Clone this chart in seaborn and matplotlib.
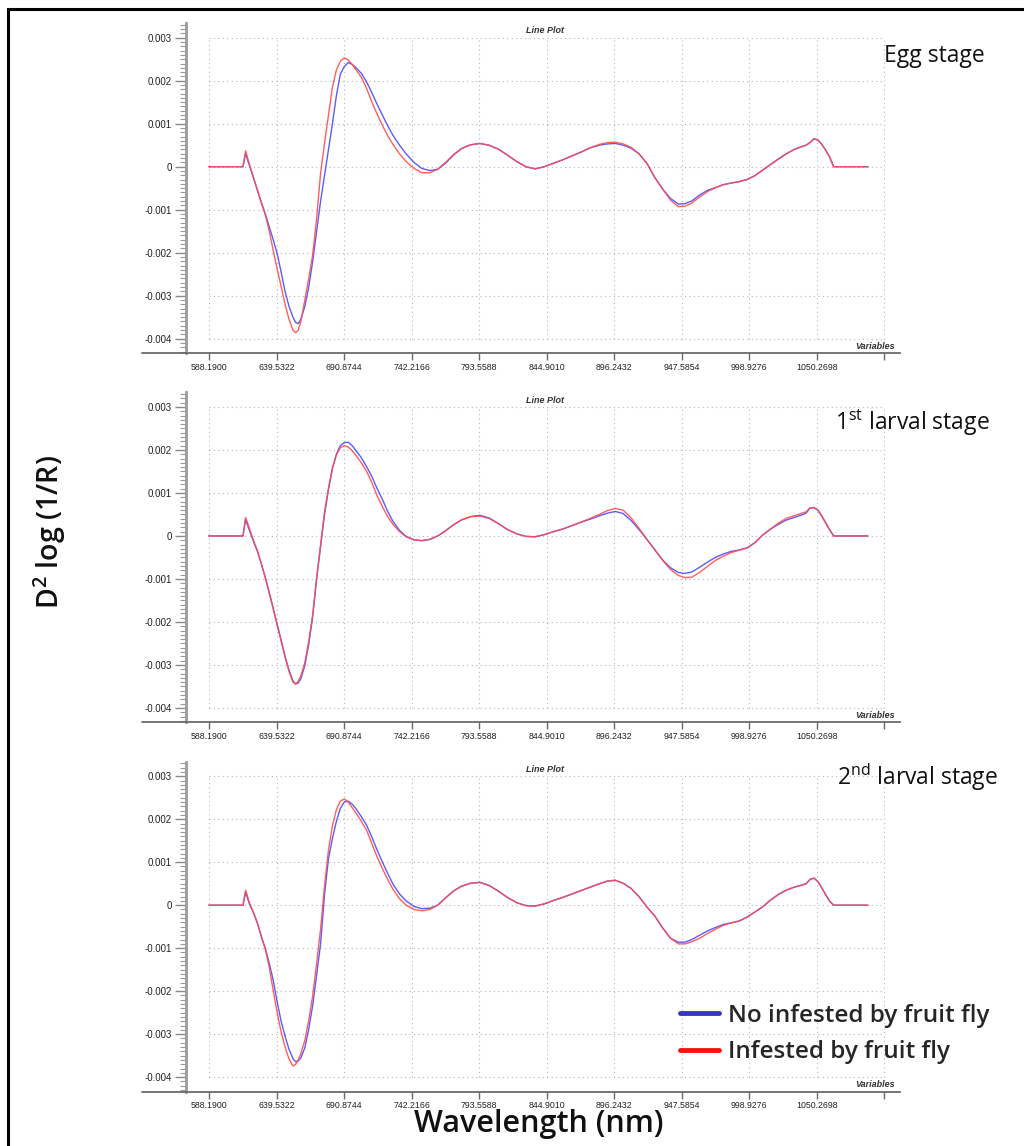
import numpy as np
import pandas as pd
import matplotlib
matplotlib.use("Agg")
import matplotlib.pyplot as plt
import matplotlib.ticker as mticker
from matplotlib.lines import Line2D
from matplotlib.patches import Rectangle
import seaborn as sns

# ---------------------------------------------------------------- data
# Wavelength sampling (nm) shared by every spectrum
wavelength = [588, 614, 616, 619, 622, 625, 628, 631, 634, 637, 640, 643, 646, 649, 652, 654,
              656, 658, 661, 664, 667, 670, 673, 676, 679, 682, 685, 688, 691, 694, 697, 700,
              704, 708, 712, 716, 720, 724, 728, 733, 738, 744, 750, 756, 762, 768, 774, 780,
              787, 794, 801, 808, 815, 822, 829, 836, 843, 850, 857, 864, 871, 878, 885, 891,
              897, 903, 909, 915, 921, 927, 933, 939, 945, 950, 955, 961, 967, 973, 979, 985,
              991, 997, 1003, 1009, 1015, 1021, 1027, 1033, 1038, 1042, 1045, 1048, 1051, 1054,
              1057, 1060, 1063, 1089]

# Second-derivative spectra, in units of 1e-3
egg_no = [0, 0, 0.30, 0.02, -0.26, -0.55, -0.83, -1.10, -1.40, -1.70, -2.02, -2.45, -2.90, -3.25, -3.50, -3.62,
          -3.65, -3.55, -3.25, -2.80, -2.20, -1.50, -0.80, -0.20, 0.40, 1.00, 1.65, 2.15, 2.33, 2.42, 2.38, 2.30,
          2.17, 1.97, 1.72, 1.45, 1.20, 0.95, 0.73, 0.50, 0.30, 0.10, -0.04, -0.09, -0.06, 0.08, 0.27, 0.42,
          0.51, 0.54, 0.50, 0.41, 0.27, 0.12, 0.00, -0.05, 0.00, 0.08, 0.16, 0.25, 0.34, 0.44, 0.50, 0.53,
          0.54, 0.50, 0.43, 0.30, 0.08, -0.25, -0.52, -0.74, -0.87, -0.86, -0.80, -0.66, -0.55, -0.49, -0.42, -0.38,
          -0.35, -0.30, -0.21, -0.08, 0.05, 0.18, 0.30, 0.40, 0.46, 0.50, 0.56, 0.65, 0.62, 0.52,
          0.38, 0.22, 0.00, 0]
egg_inf = [0, 0, 0.37, 0.05, -0.25, -0.55, -0.85, -1.12, -1.50, -1.95, -2.38, -2.78, -3.20, -3.55, -3.80, -3.86,
           -3.80, -3.60, -3.10, -2.60, -2.05, -1.20, -0.15, 0.55, 1.20, 1.85, 2.25, 2.45, 2.53, 2.48, 2.38, 2.25,
           2.08, 1.82, 1.50, 1.22, 0.96, 0.72, 0.52, 0.30, 0.12, -0.04, -0.14, -0.14, -0.06, 0.10, 0.28, 0.42,
           0.51, 0.54, 0.50, 0.41, 0.27, 0.12, 0.00, -0.05, 0.00, 0.08, 0.16, 0.25, 0.34, 0.44, 0.52, 0.56,
           0.57, 0.53, 0.45, 0.30, 0.08, -0.25, -0.52, -0.78, -0.93, -0.92, -0.85, -0.71, -0.58, -0.49, -0.42, -0.38,
           -0.35, -0.30, -0.21, -0.08, 0.05, 0.18, 0.30, 0.40, 0.46, 0.50, 0.56, 0.65, 0.62, 0.52,
           0.38, 0.22, 0.00, 0]

larva1_no = [0, 0, 0.38, 0.12, -0.13, -0.36, -0.65, -0.97, -1.32, -1.68, -2.05, -2.42, -2.80, -3.12, -3.37, -3.44,
             -3.42, -3.32, -3.02, -2.52, -1.88, -1.00, -0.25, 0.50, 1.08, 1.57, 1.90, 2.10, 2.17, 2.18, 2.10, 1.98,
             1.82, 1.61, 1.38, 1.10, 0.85, 0.57, 0.34, 0.13, -0.01, -0.09, -0.11, -0.08, 0.00, 0.12, 0.26, 0.37,
             0.45, 0.48, 0.42, 0.29, 0.15, 0.05, -0.01, -0.02, 0.03, 0.10, 0.16, 0.24, 0.32, 0.39, 0.47, 0.53,
             0.57, 0.52, 0.36, 0.15, -0.08, -0.32, -0.56, -0.74, -0.85, -0.87, -0.84, -0.73, -0.61, -0.50, -0.42, -0.36,
             -0.33, -0.28, -0.16, 0.02, 0.16, 0.27, 0.37, 0.43, 0.48, 0.53, 0.65, 0.66, 0.60, 0.46,
             0.30, 0.14, 0.00, 0]
larva1_inf = [0, 0, 0.43, 0.17, -0.10, -0.35, -0.65, -0.98, -1.33, -1.70, -2.08, -2.45, -2.82, -3.15, -3.40, -3.45,
              -3.38, -3.25, -2.95, -2.45, -1.82, -0.97, -0.20, 0.55, 1.12, 1.58, 1.88, 2.05, 2.10, 2.07, 1.98, 1.87,
              1.70, 1.50, 1.24, 0.93, 0.68, 0.45, 0.27, 0.10, -0.02, -0.09, -0.11, -0.08, 0.00, 0.12, 0.26, 0.37,
              0.45, 0.46, 0.41, 0.29, 0.15, 0.05, -0.01, -0.02, 0.03, 0.10, 0.16, 0.24, 0.32, 0.41, 0.50, 0.59,
              0.64, 0.60, 0.42, 0.18, -0.08, -0.32, -0.57, -0.78, -0.92, -0.97, -0.96, -0.85, -0.71, -0.57, -0.47, -0.39,
              -0.33, -0.28, -0.16, 0.02, 0.16, 0.30, 0.41, 0.47, 0.52, 0.56, 0.65, 0.66, 0.60, 0.46,
              0.30, 0.14, 0.00, 0]

larva2_no = [0, 0, 0.30, 0.02, -0.18, -0.42, -0.73, -1.01, -1.35, -1.75, -2.25, -2.70, -3.05, -3.35, -3.57, -3.64,
             -3.62, -3.55, -3.32, -2.88, -2.33, -1.62, -0.90, 0.25, 1.08, 1.55, 1.95, 2.25, 2.40, 2.42, 2.35, 2.24,
             2.06, 1.86, 1.58, 1.28, 1.00, 0.74, 0.49, 0.26, 0.10, -0.03, -0.08, -0.07, 0.00, 0.17, 0.33, 0.44,
             0.51, 0.53, 0.46, 0.33, 0.18, 0.06, -0.01, -0.02, 0.03, 0.11, 0.18, 0.26, 0.34, 0.42, 0.50, 0.56,
             0.58, 0.51, 0.39, 0.20, -0.04, -0.25, -0.53, -0.77, -0.86, -0.86, -0.80, -0.70, -0.60, -0.52, -0.45, -0.41,
             -0.37, -0.28, -0.16, -0.04, 0.12, 0.25, 0.35, 0.42, 0.46, 0.50, 0.60, 0.63, 0.55, 0.40,
             0.24, 0.09, 0.00, 0]
larva2_inf = [0, 0, 0.35, 0.05, -0.17, -0.42, -0.73, -1.02, -1.45, -1.98, -2.50, -2.95, -3.30, -3.58, -3.74, -3.70,
              -3.60, -3.45, -3.15, -2.68, -2.10, -1.35, -0.55, 0.45, 1.28, 1.85, 2.22, 2.42, 2.47, 2.40, 2.27, 2.14,
              1.95, 1.74, 1.43, 1.12, 0.85, 0.60, 0.37, 0.15, 0.00, -0.10, -0.13, -0.10, 0.00, 0.17, 0.33, 0.44,
              0.51, 0.53, 0.46, 0.33, 0.18, 0.06, -0.01, -0.02, 0.03, 0.11, 0.18, 0.26, 0.34, 0.42, 0.50, 0.56,
              0.58, 0.51, 0.39, 0.20, -0.04, -0.25, -0.53, -0.77, -0.90, -0.90, -0.85, -0.77, -0.66, -0.56, -0.47, -0.41,
              -0.37, -0.28, -0.16, -0.04, 0.12, 0.25, 0.35, 0.42, 0.46, 0.50, 0.60, 0.63, 0.55, 0.40,
              0.24, 0.09, 0.00, 0]

stage_names = ["Egg stage", r"1$^\mathregular{st}$ larval stage", r"2$^\mathregular{nd}$ larval stage"]
group_names = ["No infested by fruit fly", "Infested by fruit fly"]
spectra = [(egg_no, egg_inf), (larva1_no, larva1_inf), (larva2_no, larva2_inf)]

x_tick_values = [588.1900, 639.5322, 690.8744, 742.2166, 793.5588, 844.9010,
                 896.2432, 947.5854, 998.9276, 1050.2698, 1101.6120]
x_tick_labels = ["588.1900", "639.5322", "690.8744", "742.2166", "793.5588", "844.9010",
                 "896.2432", "947.5854", "998.9276", "1050.2698", ""]
y_tick_values = [-0.004, -0.003, -0.002, -0.001, 0.0, 0.001, 0.002, 0.003]
y_tick_labels = ["-0.004", "-0.003", "-0.002", "-0.001", "0", "0.001", "0.002", "0.003"]

# ---------------------------------------------------------------- style
sns.set_style("white")
plt.rcParams["font.family"] = ["Liberation Sans", "DejaVu Sans"]

LINE_COLORS = {group_names[0]: "#4a4aff", group_names[1]: "#ff4d4d"}
LEGEND_COLORS = {group_names[0]: "#3535c8", group_names[1]: "#ff1010"}
LABEL_FONT = ["Open Sans", "Noto Sans", "DejaVu Sans"]

W, H = 1024, 1146
fig = plt.figure(figsize=(W / 100, H / 100), dpi=100)
fig.patch.set_facecolor("white")

# outer frame
fig.add_artist(Rectangle((8 / W, 1 - 1150 / H), 1030 / W, 1141 / H, transform=fig.transFigure,
                         fill=False, edgecolor="black", linewidth=2.2, clip_on=False))

ax_left, ax_right = 186, 900
panel_step = 369.25
axes = []
for i, (no_vals, inf_vals) in enumerate(spectra):
    top = 23 + panel_step * i
    bottom = 353 + panel_step * i
    ax = fig.add_axes([ax_left / W, 1 - bottom / H, (ax_right - ax_left) / W, (bottom - top) / H])
    axes.append(ax)

    df = pd.DataFrame({
        "wavelength": wavelength * 2,
        "d2": np.concatenate([np.array(no_vals), np.array(inf_vals)]) * 1e-3,
        "group": [group_names[0]] * len(wavelength) + [group_names[1]] * len(wavelength),
    })
    sns.lineplot(data=df, x="wavelength", y="d2", hue="group", palette=LINE_COLORS,
                 hue_order=group_names, estimator=None, sort=False, linewidth=1.0,
                 alpha=0.9, legend=False, ax=ax, zorder=3)

    ax.set_xlim(570.7, 1113.4)
    ax.set_ylim(-0.004333, 0.003342)

    # dotted grid confined to the tick range
    ax.hlines(y_tick_values, x_tick_values[0], x_tick_values[-1], colors="#b5b5b5",
              linestyles=(0, (1, 3)), linewidth=0.8, zorder=1)
    ax.vlines(x_tick_values, y_tick_values[0], y_tick_values[-1], colors="#b5b5b5",
              linestyles=(0, (1, 3)), linewidth=0.8, zorder=1)

    for side in ("top", "right"):
        ax.spines[side].set_visible(False)
    ax.spines["left"].set_color("#9a9a9a")
    ax.spines["left"].set_linewidth(2.0)
    ax.spines["bottom"].set_color("#6a6a6a")
    ax.spines["bottom"].set_linewidth(1.3)
    # bottom axis line runs a little past the value axis on the left
    fig.add_artist(Line2D([142 / W, ax_left / W], [1 - bottom / H] * 2, color="#6a6a6a",
                          linewidth=1.3, transform=fig.transFigure))

    ax.set_xticks(x_tick_values)
    ax.set_xticklabels(x_tick_labels, fontsize=6.3, color="#222222",
                       family=["Liberation Sans Narrow", "Liberation Sans", "DejaVu Sans"])
    ax.set_yticks(y_tick_values)
    ax.set_yticklabels(y_tick_labels, fontsize=7, color="#222222")
    ax.yaxis.set_minor_locator(mticker.MultipleLocator(0.0001))
    ax.tick_params(which="both", left=True, bottom=True)
    ax.tick_params(axis="x", which="minor", bottom=False)
    ax.tick_params(axis="x", which="major", direction="out", length=5, width=1, color="#6a6a6a", pad=2)
    ax.tick_params(axis="y", which="major", direction="out", length=8, width=1, color="#8a8a8a", pad=2)
    ax.tick_params(axis="y", which="minor", direction="out", length=4, width=0.8, color="#9a9a9a")
    ax.set_xlabel("")
    ax.set_ylabel("")

    ax.text(0.503, 0.976, "Line Plot", transform=ax.transAxes, ha="center", va="center",
            fontsize=6.5, style="italic", weight="bold", color="#333333")
    ax.text(0.965, 0.021, "Variables", transform=ax.transAxes, ha="center", va="center",
            fontsize=6.5, style="italic", weight="bold", color="#333333")

# stage captions
stage_pos = [(985, 56), (990, 423), (998, 777)]
for name, (px, py) in zip(stage_names, stage_pos):
    fig.text(px / W, 1 - py / H, name, ha="right", va="center", fontsize=16.5,
             family=LABEL_FONT, color="#111111")

# axis titles
fig.text(50 / W, 1 - 532 / H, r"D$^\mathregular{2}$ log (1/R)", rotation=90, ha="center", va="center",
         fontsize=20.5, weight="semibold", family=LABEL_FONT, color="#111111")
fig.text(539 / W, 1 - 1124 / H, "Wavelength (nm)", ha="center", va="center",
         fontsize=22, weight="semibold", family=LABEL_FONT, color="#111111")

# legend
handles = [Line2D([], [], color=LEGEND_COLORS[g], linewidth=3.5) for g in group_names]
leg = fig.legend(handles, group_names, loc="upper left", bbox_to_anchor=(658 / W, 1 - 982 / H),
                 frameon=False, handlelength=1.6, handletextpad=0.4, labelspacing=0.5,
                 prop={"family": LABEL_FONT, "size": 17.5, "weight": "semibold"})

fig.savefig("out.png", dpi=100)
